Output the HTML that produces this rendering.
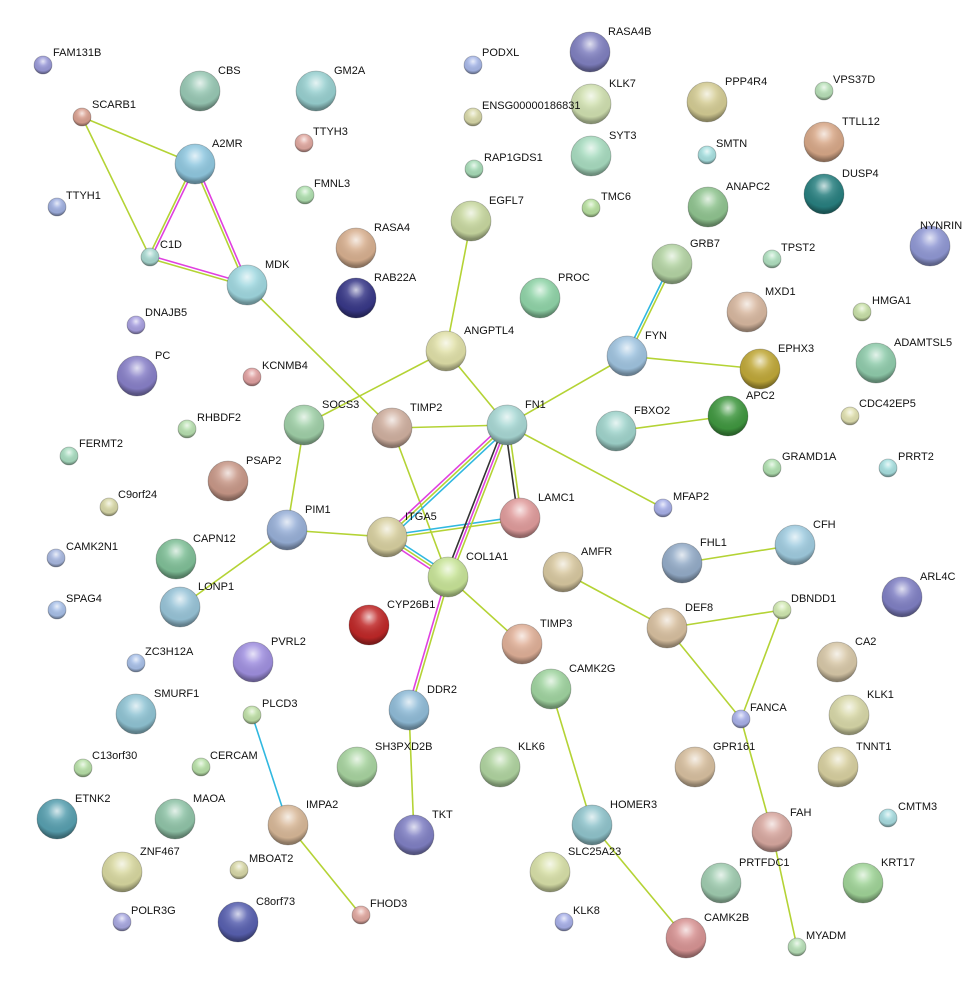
<!DOCTYPE html>
<html><head><meta charset="utf-8"><style>
html,body{margin:0;padding:0;background:#fff;}
svg{display:block;}
text{font-family:"Liberation Sans",sans-serif;font-size:11px;fill:#111;}
</style></head><body>
<svg width="972" height="993" viewBox="0 0 972 993" xmlns="http://www.w3.org/2000/svg">
<defs>
<radialGradient id="h" cx="0.5" cy="0.3" r="0.65">
<stop offset="0" stop-color="#fff" stop-opacity="0.75"/>
<stop offset="0.35" stop-color="#fff" stop-opacity="0.15"/>
<stop offset="0.8" stop-color="#000" stop-opacity="0.05"/>
<stop offset="1" stop-color="#000" stop-opacity="0.35"/>
</radialGradient>
</defs>
<g stroke-width="1.6" fill="none">
<line x1="82" y1="117" x2="195" y2="164" stroke="#b4d335"/>
<line x1="82" y1="117" x2="150" y2="257" stroke="#b4d335"/>
<line x1="193.5" y1="164" x2="148.5" y2="257" stroke="#b4d335"/>
<line x1="196.5" y1="164" x2="151.5" y2="257" stroke="#e040e0"/>
<line x1="193.5" y1="164" x2="245.5" y2="285" stroke="#b4d335"/>
<line x1="196.5" y1="164" x2="248.5" y2="285" stroke="#e040e0"/>
<line x1="150" y1="258.5" x2="247" y2="286.5" stroke="#b4d335"/>
<line x1="150" y1="255.5" x2="247" y2="283.5" stroke="#e040e0"/>
<line x1="247" y1="285" x2="392" y2="428" stroke="#b4d335"/>
<line x1="392" y1="428" x2="448" y2="577" stroke="#b4d335"/>
<line x1="392" y1="428" x2="507" y2="425" stroke="#b4d335"/>
<line x1="304" y1="425" x2="446" y2="351" stroke="#b4d335"/>
<line x1="304" y1="425" x2="287" y2="530" stroke="#b4d335"/>
<line x1="287" y1="530" x2="387" y2="537" stroke="#b4d335"/>
<line x1="287" y1="530" x2="180" y2="607" stroke="#b4d335"/>
<line x1="446" y1="351" x2="471" y2="221" stroke="#b4d335"/>
<line x1="446" y1="351" x2="507" y2="425" stroke="#b4d335"/>
<line x1="507" y1="425" x2="627" y2="356" stroke="#b4d335"/>
<line x1="625.5" y1="356" x2="670.5" y2="264" stroke="#30b8e0"/>
<line x1="628.5" y1="356" x2="673.5" y2="264" stroke="#b4d335"/>
<line x1="627" y1="356" x2="760" y2="369" stroke="#b4d335"/>
<line x1="616" y1="431" x2="728" y2="416" stroke="#b4d335"/>
<line x1="507" y1="425" x2="663" y2="508" stroke="#b4d335"/>
<line x1="505" y1="425" x2="518" y2="518" stroke="#333"/>
<line x1="508.5" y1="425" x2="521.5" y2="518" stroke="#b4d335"/>
<line x1="505" y1="422.8" x2="385" y2="534.8" stroke="#e040e0"/>
<line x1="507" y1="425" x2="387" y2="537" stroke="#b4d335"/>
<line x1="509" y1="427.2" x2="389" y2="539.2" stroke="#30b8e0"/>
<line x1="387" y1="535.5" x2="520" y2="516.5" stroke="#30b8e0"/>
<line x1="387" y1="538.5" x2="520" y2="519.5" stroke="#b4d335"/>
<line x1="388.6" y1="534.5" x2="449.6" y2="574.5" stroke="#30b8e0"/>
<line x1="387" y1="537" x2="448" y2="577" stroke="#b4d335"/>
<line x1="385.4" y1="539.5" x2="446.4" y2="579.5" stroke="#e040e0"/>
<line x1="504" y1="425" x2="445" y2="577" stroke="#333"/>
<line x1="507" y1="425" x2="448" y2="577" stroke="#e040e0"/>
<line x1="510" y1="425" x2="451" y2="577" stroke="#b4d335"/>
<line x1="448" y1="577" x2="522" y2="644" stroke="#b4d335"/>
<line x1="446.5" y1="577" x2="407.5" y2="710" stroke="#e040e0"/>
<line x1="449.5" y1="577" x2="410.5" y2="710" stroke="#b4d335"/>
<line x1="409" y1="710" x2="414" y2="835" stroke="#b4d335"/>
<line x1="252" y1="715" x2="288" y2="825" stroke="#30b8e0"/>
<line x1="288" y1="825" x2="361" y2="915" stroke="#b4d335"/>
<line x1="551" y1="689" x2="592" y2="825" stroke="#b4d335"/>
<line x1="592" y1="825" x2="686" y2="938" stroke="#b4d335"/>
<line x1="563" y1="572" x2="667" y2="628" stroke="#b4d335"/>
<line x1="667" y1="628" x2="782" y2="610" stroke="#b4d335"/>
<line x1="667" y1="628" x2="741" y2="719" stroke="#b4d335"/>
<line x1="782" y1="610" x2="741" y2="719" stroke="#b4d335"/>
<line x1="741" y1="719" x2="772" y2="832" stroke="#b4d335"/>
<line x1="772" y1="832" x2="797" y2="947" stroke="#b4d335"/>
<line x1="682" y1="563" x2="795" y2="545" stroke="#b4d335"/>
</g>
<g stroke="#00000040" stroke-width="0.8">
<circle cx="43" cy="65" r="9" fill="#9a9ad8"/><circle cx="82" cy="117" r="9" fill="#d9a090"/><circle cx="57" cy="207" r="9" fill="#a0b0e0"/><circle cx="150" cy="257" r="9" fill="#a8d8d0"/>
<circle cx="195" cy="164" r="20" fill="#90c8e0"/><circle cx="200" cy="91" r="20" fill="#98c8b4"/><circle cx="316" cy="91" r="20" fill="#98d0d0"/><circle cx="304" cy="143" r="9" fill="#e0a8a0"/><circle cx="305" cy="195" r="9" fill="#b0e0b0"/>
<circle cx="247" cy="285" r="20" fill="#a0d8e0"/><circle cx="136" cy="325" r="9" fill="#a8a0e0"/><circle cx="137" cy="376" r="20" fill="#8880c8"/><circle cx="252" cy="377" r="9" fill="#e0a0a0"/><circle cx="187" cy="429" r="9" fill="#b8e0b0"/>
<circle cx="69" cy="456" r="9" fill="#a8dcc0"/><circle cx="228" cy="481" r="20" fill="#c89888"/><circle cx="109" cy="507" r="9" fill="#d8d8a8"/><circle cx="56" cy="558" r="9" fill="#a8b8e0"/>
<circle cx="176" cy="559" r="20" fill="#80c098"/><circle cx="287" cy="530" r="20" fill="#98b0d8"/><circle cx="304" cy="425" r="20" fill="#a0d0a8"/><circle cx="392" cy="428" r="20" fill="#d0b0a0"/>
<circle cx="356" cy="248" r="20" fill="#d8b090"/><circle cx="356" cy="298" r="20" fill="#383888"/><circle cx="473" cy="65" r="9" fill="#a8b8e8"/><circle cx="473" cy="117" r="9" fill="#d8d8a8"/><circle cx="474" cy="169" r="9" fill="#a8dcb8"/>
<circle cx="471" cy="221" r="20" fill="#c8d8a0"/><circle cx="590" cy="52" r="20" fill="#8080c0"/><circle cx="591" cy="104" r="20" fill="#d0e0b0"/><circle cx="591" cy="156" r="20" fill="#a8dcc0"/><circle cx="591" cy="208" r="9" fill="#b8e0a0"/>
<circle cx="540" cy="298" r="20" fill="#90d4a8"/><circle cx="446" cy="351" r="20" fill="#e0e0a8"/><circle cx="507" cy="425" r="20" fill="#a8d8d4"/><circle cx="520" cy="518" r="20" fill="#e09c9c"/>
<circle cx="387" cy="537" r="20" fill="#d8d0a0"/><circle cx="448" cy="577" r="20" fill="#c8e498"/><circle cx="369" cy="625" r="20" fill="#c02828"/><circle cx="522" cy="644" r="20" fill="#e0b098"/>
<circle cx="253" cy="662" r="20" fill="#a090e0"/><circle cx="136" cy="663" r="9" fill="#a8c0e8"/><circle cx="180" cy="607" r="20" fill="#98c4d8"/><circle cx="57" cy="610" r="9" fill="#a8c0e8"/>
<circle cx="136" cy="714" r="20" fill="#90c4d4"/><circle cx="252" cy="715" r="9" fill="#c0e0a8"/><circle cx="409" cy="710" r="20" fill="#90bcd8"/><circle cx="551" cy="689" r="20" fill="#a0d4a0"/>
<circle cx="83" cy="768" r="9" fill="#b8e0a8"/><circle cx="201" cy="767" r="9" fill="#b8e0a8"/><circle cx="357" cy="767" r="20" fill="#a8d4a0"/><circle cx="500" cy="767" r="20" fill="#b0d4a0"/>
<circle cx="57" cy="819" r="20" fill="#58a0b0"/><circle cx="175" cy="819" r="20" fill="#90c4a8"/><circle cx="288" cy="825" r="20" fill="#d8b898"/><circle cx="414" cy="835" r="20" fill="#8080c4"/><circle cx="592" cy="825" r="20" fill="#90c4cc"/>
<circle cx="122" cy="872" r="20" fill="#d8d8a0"/><circle cx="239" cy="870" r="9" fill="#d8d8a8"/><circle cx="550" cy="872" r="20" fill="#d8e0a8"/><circle cx="361" cy="915" r="9" fill="#e0a8a0"/>
<circle cx="122" cy="922" r="9" fill="#a8a8e0"/><circle cx="238" cy="922" r="20" fill="#5860b0"/><circle cx="564" cy="922" r="9" fill="#a8b0e8"/><circle cx="686" cy="938" r="20" fill="#d89494"/><circle cx="797" cy="947" r="9" fill="#b8e0b8"/>
<circle cx="721" cy="883" r="20" fill="#a0ccb0"/><circle cx="772" cy="832" r="20" fill="#d8a8a0"/><circle cx="863" cy="883" r="20" fill="#a0d498"/><circle cx="888" cy="818" r="9" fill="#a8dce0"/>
<circle cx="838" cy="767" r="20" fill="#d8d0a0"/><circle cx="695" cy="767" r="20" fill="#d8c0a0"/><circle cx="741" cy="719" r="9" fill="#a8b0e8"/><circle cx="849" cy="715" r="20" fill="#d8d8a8"/>
<circle cx="837" cy="662" r="20" fill="#d8c8a8"/><circle cx="782" cy="610" r="9" fill="#d0e8b0"/><circle cx="667" cy="628" r="20" fill="#d8c0a0"/><circle cx="563" cy="572" r="20" fill="#d8c8a0"/>
<circle cx="682" cy="563" r="20" fill="#94acc8"/><circle cx="795" cy="545" r="20" fill="#a0cce0"/><circle cx="902" cy="597" r="20" fill="#8080c4"/><circle cx="663" cy="508" r="9" fill="#a8b0e8"/>
<circle cx="616" cy="431" r="20" fill="#a0d4cc"/><circle cx="728" cy="416" r="20" fill="#409840"/><circle cx="772" cy="468" r="9" fill="#b0e0b0"/><circle cx="850" cy="416" r="9" fill="#e0e0b0"/><circle cx="888" cy="468" r="9" fill="#a8e0e0"/>
<circle cx="876" cy="363" r="20" fill="#90ccac"/><circle cx="862" cy="312" r="9" fill="#c8e0a8"/><circle cx="760" cy="369" r="20" fill="#c0a838"/><circle cx="747" cy="312" r="20" fill="#d8b8a0"/>
<circle cx="627" cy="356" r="20" fill="#a0c4e0"/><circle cx="672" cy="264" r="20" fill="#b4d4a4"/><circle cx="772" cy="259" r="9" fill="#b0e0c0"/><circle cx="930" cy="246" r="20" fill="#9098d4"/>
<circle cx="824" cy="194" r="20" fill="#288080"/><circle cx="824" cy="142" r="20" fill="#d8a888"/><circle cx="824" cy="91" r="9" fill="#b8e0b8"/><circle cx="707" cy="102" r="20" fill="#d4cc94"/><circle cx="707" cy="155" r="9" fill="#a8e0e0"/><circle cx="708" cy="207" r="20" fill="#90c490"/>
</g>
<g fill="url(#h)">
<circle cx="43" cy="65" r="9"/><circle cx="82" cy="117" r="9"/><circle cx="57" cy="207" r="9"/><circle cx="150" cy="257" r="9"/>
<circle cx="195" cy="164" r="20"/><circle cx="200" cy="91" r="20"/><circle cx="316" cy="91" r="20"/><circle cx="304" cy="143" r="9"/><circle cx="305" cy="195" r="9"/>
<circle cx="247" cy="285" r="20"/><circle cx="136" cy="325" r="9"/><circle cx="137" cy="376" r="20"/><circle cx="252" cy="377" r="9"/><circle cx="187" cy="429" r="9"/>
<circle cx="69" cy="456" r="9"/><circle cx="228" cy="481" r="20"/><circle cx="109" cy="507" r="9"/><circle cx="56" cy="558" r="9"/>
<circle cx="176" cy="559" r="20"/><circle cx="287" cy="530" r="20"/><circle cx="304" cy="425" r="20"/><circle cx="392" cy="428" r="20"/>
<circle cx="356" cy="248" r="20"/><circle cx="356" cy="298" r="20"/><circle cx="473" cy="65" r="9"/><circle cx="473" cy="117" r="9"/><circle cx="474" cy="169" r="9"/>
<circle cx="471" cy="221" r="20"/><circle cx="590" cy="52" r="20"/><circle cx="591" cy="104" r="20"/><circle cx="591" cy="156" r="20"/><circle cx="591" cy="208" r="9"/>
<circle cx="540" cy="298" r="20"/><circle cx="446" cy="351" r="20"/><circle cx="507" cy="425" r="20"/><circle cx="520" cy="518" r="20"/>
<circle cx="387" cy="537" r="20"/><circle cx="448" cy="577" r="20"/><circle cx="369" cy="625" r="20"/><circle cx="522" cy="644" r="20"/>
<circle cx="253" cy="662" r="20"/><circle cx="136" cy="663" r="9"/><circle cx="180" cy="607" r="20"/><circle cx="57" cy="610" r="9"/>
<circle cx="136" cy="714" r="20"/><circle cx="252" cy="715" r="9"/><circle cx="409" cy="710" r="20"/><circle cx="551" cy="689" r="20"/>
<circle cx="83" cy="768" r="9"/><circle cx="201" cy="767" r="9"/><circle cx="357" cy="767" r="20"/><circle cx="500" cy="767" r="20"/>
<circle cx="57" cy="819" r="20"/><circle cx="175" cy="819" r="20"/><circle cx="288" cy="825" r="20"/><circle cx="414" cy="835" r="20"/><circle cx="592" cy="825" r="20"/>
<circle cx="122" cy="872" r="20"/><circle cx="239" cy="870" r="9"/><circle cx="550" cy="872" r="20"/><circle cx="361" cy="915" r="9"/>
<circle cx="122" cy="922" r="9"/><circle cx="238" cy="922" r="20"/><circle cx="564" cy="922" r="9"/><circle cx="686" cy="938" r="20"/><circle cx="797" cy="947" r="9"/>
<circle cx="721" cy="883" r="20"/><circle cx="772" cy="832" r="20"/><circle cx="863" cy="883" r="20"/><circle cx="888" cy="818" r="9"/>
<circle cx="838" cy="767" r="20"/><circle cx="695" cy="767" r="20"/><circle cx="741" cy="719" r="9"/><circle cx="849" cy="715" r="20"/>
<circle cx="837" cy="662" r="20"/><circle cx="782" cy="610" r="9"/><circle cx="667" cy="628" r="20"/><circle cx="563" cy="572" r="20"/>
<circle cx="682" cy="563" r="20"/><circle cx="795" cy="545" r="20"/><circle cx="902" cy="597" r="20"/><circle cx="663" cy="508" r="9"/>
<circle cx="616" cy="431" r="20"/><circle cx="728" cy="416" r="20"/><circle cx="772" cy="468" r="9"/><circle cx="850" cy="416" r="9"/><circle cx="888" cy="468" r="9"/>
<circle cx="876" cy="363" r="20"/><circle cx="862" cy="312" r="9"/><circle cx="760" cy="369" r="20"/><circle cx="747" cy="312" r="20"/>
<circle cx="627" cy="356" r="20"/><circle cx="672" cy="264" r="20"/><circle cx="772" cy="259" r="9"/><circle cx="930" cy="246" r="20"/>
<circle cx="824" cy="194" r="20"/><circle cx="824" cy="142" r="20"/><circle cx="824" cy="91" r="9"/><circle cx="707" cy="102" r="20"/><circle cx="707" cy="155" r="9"/><circle cx="708" cy="207" r="20"/>
</g>
<g>
<text x="53" y="56">FAM131B</text><text x="92" y="108">SCARB1</text><text x="66" y="199">TTYH1</text><text x="160" y="248">C1D</text>
<text x="212" y="147">A2MR</text><text x="218" y="74">CBS</text><text x="334" y="74">GM2A</text><text x="313" y="135">TTYH3</text><text x="314" y="187">FMNL3</text>
<text x="265" y="268">MDK</text><text x="145" y="316">DNAJB5</text><text x="155" y="359">PC</text><text x="262" y="369">KCNMB4</text><text x="197" y="421">RHBDF2</text>
<text x="79" y="447">FERMT2</text><text x="246" y="464">PSAP2</text><text x="118" y="498">C9orf24</text><text x="66" y="550">CAMK2N1</text>
<text x="193" y="542">CAPN12</text><text x="305" y="513">PIM1</text><text x="322" y="408">SOCS3</text><text x="410" y="411">TIMP2</text>
<text x="374" y="231">RASA4</text><text x="374" y="281">RAB22A</text><text x="482" y="56">PODXL</text><text x="482" y="109">ENSG00000186831</text><text x="484" y="161">RAP1GDS1</text>
<text x="489" y="204">EGFL7</text><text x="608" y="35">RASA4B</text><text x="609" y="87">KLK7</text><text x="609" y="139">SYT3</text><text x="601" y="200">TMC6</text>
<text x="558" y="281">PROC</text><text x="464" y="334">ANGPTL4</text><text x="525" y="408">FN1</text><text x="538" y="501">LAMC1</text>
<text x="405" y="520">ITGA5</text><text x="466" y="560">COL1A1</text><text x="387" y="608">CYP26B1</text><text x="540" y="627">TIMP3</text>
<text x="271" y="645">PVRL2</text><text x="145" y="655">ZC3H12A</text><text x="198" y="590">LONP1</text><text x="66" y="602">SPAG4</text>
<text x="154" y="697">SMURF1</text><text x="262" y="707">PLCD3</text><text x="427" y="693">DDR2</text><text x="569" y="672">CAMK2G</text>
<text x="92" y="759">C13orf30</text><text x="210" y="759">CERCAM</text><text x="375" y="750">SH3PXD2B</text><text x="518" y="750">KLK6</text>
<text x="75" y="802">ETNK2</text><text x="193" y="802">MAOA</text><text x="306" y="808">IMPA2</text><text x="432" y="818">TKT</text><text x="610" y="808">HOMER3</text>
<text x="140" y="855">ZNF467</text><text x="249" y="862">MBOAT2</text><text x="568" y="855">SLC25A23</text><text x="370" y="907">FHOD3</text>
<text x="131" y="914">POLR3G</text><text x="256" y="905">C8orf73</text><text x="573" y="914">KLK8</text><text x="704" y="921">CAMK2B</text><text x="806" y="939">MYADM</text>
<text x="739" y="866">PRTFDC1</text><text x="790" y="816">FAH</text><text x="881" y="866">KRT17</text><text x="898" y="810">CMTM3</text>
<text x="856" y="750">TNNT1</text><text x="713" y="750">GPR161</text><text x="750" y="711">FANCA</text><text x="867" y="698">KLK1</text>
<text x="855" y="645">CA2</text><text x="791" y="602">DBNDD1</text><text x="685" y="611">DEF8</text><text x="581" y="555">AMFR</text>
<text x="700" y="546">FHL1</text><text x="813" y="528">CFH</text><text x="920" y="580">ARL4C</text><text x="673" y="500">MFAP2</text>
<text x="634" y="414">FBXO2</text><text x="746" y="399">APC2</text><text x="782" y="460">GRAMD1A</text><text x="859" y="407">CDC42EP5</text><text x="898" y="460">PRRT2</text>
<text x="894" y="346">ADAMTSL5</text><text x="872" y="304">HMGA1</text><text x="778" y="352">EPHX3</text><text x="765" y="295">MXD1</text>
<text x="645" y="339">FYN</text><text x="690" y="247">GRB7</text><text x="781" y="251">TPST2</text><text x="920" y="229">NYNRIN</text>
<text x="842" y="177">DUSP4</text><text x="842" y="125">TTLL12</text><text x="833" y="83">VPS37D</text><text x="725" y="85">PPP4R4</text><text x="716" y="147">SMTN</text><text x="726" y="190">ANAPC2</text>
</g>
</svg>
</body></html>
